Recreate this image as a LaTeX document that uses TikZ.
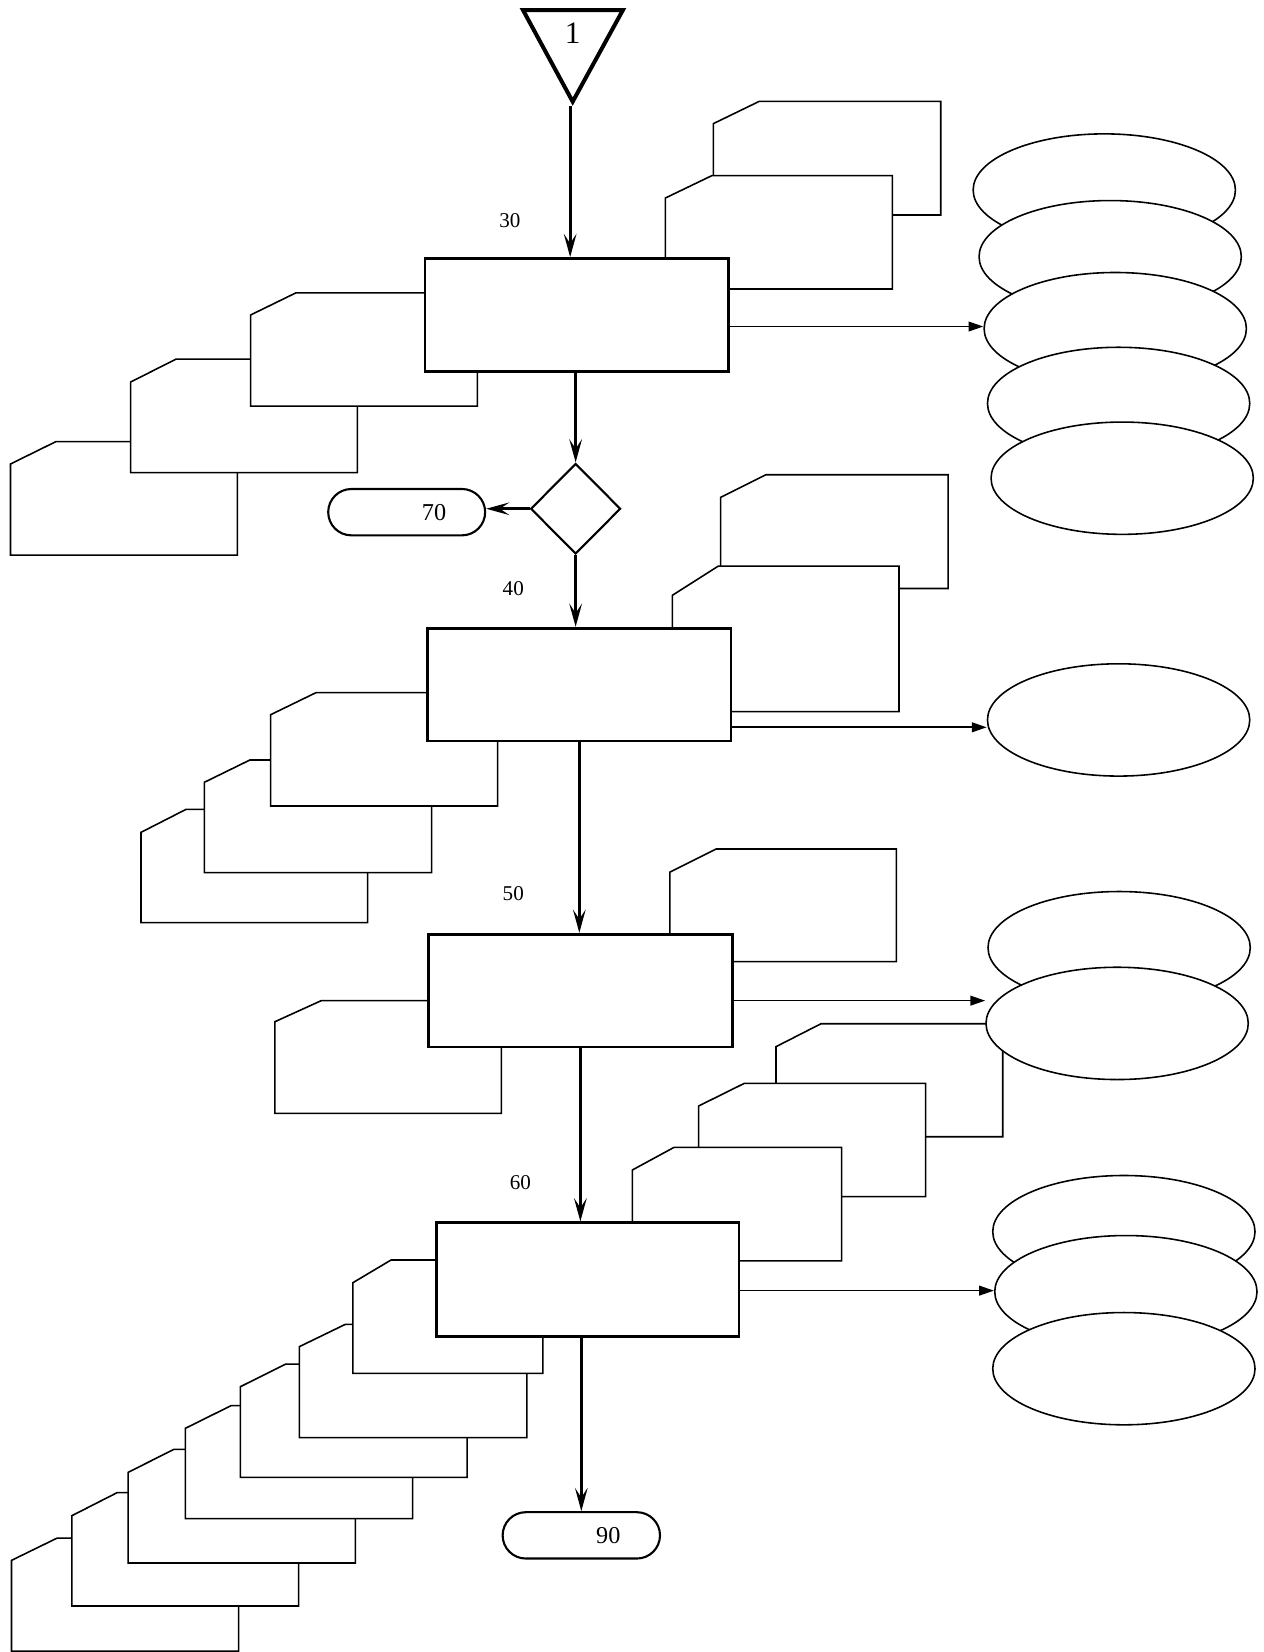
\documentclass[tikz,border=0pt]{standalone}
\usepackage{fontspec}
\setmainfont{Liberation Serif}
\usetikzlibrary{shapes.geometric,shapes.misc,arrows.meta}
\newcommand\doccard[6]{\path[cardline] (#1+#5,#2) -- (#1+#3,#2) -- (#1+#3,#2+#4) -- (#1,#2+#4) -- (#1,#2+#6) -- cycle;}
\begin{document}
\begin{tikzpicture}[x=0.5pt,y=-0.5pt,
 procbox/.style={draw,rectangle,line width=1.4pt,fill=white,inner sep=0pt,minimum width=144pt,minimum height=53.75pt},
 cardline/.style={draw,line width=0.75pt,fill=white,line join=miter},
 datastore/.style={draw,ellipse,line width=0.75pt,fill=white,inner sep=0pt,minimum width=124.5pt,minimum height=53.3pt},
 decision/.style={draw,diamond,line width=1pt,fill=white,inner sep=0pt,minimum width=42.7pt,minimum height=43pt},
 terminal/.style={draw,rounded rectangle,line width=1pt,fill=white,inner sep=0pt,minimum width=74.5pt,minimum height=22pt,font=\fontsize{11.5}{13}\selectfont},
 varrow/.style={line width=1.3pt,-{Stealth[length=11pt,width=6pt,inset=4.5pt]}},
 harrow/.style={line width=0.8pt,-{Triangle[length=7pt,width=4.6pt]}},
 steplabel/.style={font=\fontsize{10}{12}\selectfont,inner sep=0pt}
]
\useasboundingbox (0,0) rectangle (1200,1568.4);

% ---- step 30 ----
\doccard{10}{419.3}{215.3}{107.7}{43}{21.2}
\doccard{124}{341}{215.3}{107.7}{43}{21.7}
\doccard{238}{278}{215.2}{107.5}{43}{21}
\doccard{677.2}{96.2}{215.9}{107.9}{43.7}{21.2}
\doccard{631.7}{166.8}{215.5}{107.6}{44}{21.2}
\node[procbox] (b30) at (547.5,299.25) {};
\node[steplabel] (l30) at (484,209) {30};

\node[datastore] (e1) at (1048.4,180.4) {};
\node[datastore] (e2) at (1054,243.7) {};
\node[datastore] (e3) at (1058.8,312) {};
\node[datastore] (e4) at (1062,383) {};
\node[datastore] (e5) at (1065.4,454) {};

% ---- start triangle ----
\draw[line width=1.9pt,line join=miter] (496.5,9.5) -- (591.4,9.5) -- (543.7,96.5) -- cycle;
\node[font=\fontsize{14.8}{16}\selectfont,inner sep=0pt] (t1) at (543.7,31.6) {1};
\coordinate (tri) at (541.3,101);

% ---- decision ----
\node[decision] (dia) at (546.5,483) {};
\node[terminal] (t70) at (386.1,486.25) {\hspace*{26pt}70};

% ---- step 40 ----
\doccard{684.2}{450.7}{216}{108}{43}{21.5}
\doccard{638.3}{537.4}{215.2}{138.2}{43.7}{27.8}
\doccard{133.9}{768.4}{215.1}{107.6}{42.7}{21.8}
\doccard{194}{721.5}{215.8}{107}{43.3}{21.2}
\doccard{257}{657.6}{215.5}{107.6}{43}{20.9}
\node[procbox,minimum height=53.5pt] (b40) at (550,650) {};
\node[steplabel] (l40) at (487.3,558.6) {40};
\node[datastore] (e40) at (1062,683.5) {};

% ---- step 50 ----
\doccard{636}{806}{215}{107}{44}{22}
\doccard{261}{950}{215}{107}{44}{20}
\node[procbox,minimum height=53.5pt] (b50) at (551,940.5) {};
\node[steplabel] (l50) at (487.3,848.1) {50};
\doccard{736.7}{971.9}{215.3}{107.3}{42.8}{21.8}
\node[datastore] (e50a) at (1062.5,899.7) {};
\node[datastore] (e50b) at (1060.6,971.6) {};

% ---- step 60 ----
\doccard{663.3}{1028.5}{215.5}{107.6}{43.4}{21.5}
\doccard{600.3}{1089.3}{198.8}{107.7}{39.6}{21.5}
\doccard{10.9}{1460.2}{215.6}{107.3}{43.4}{21.2}
\doccard{68.2}{1417.1}{215.3}{107.6}{43}{21.9}
\doccard{121.7}{1376}{215.7}{107.9}{43.4}{21.8}
\doccard{176}{1334.5}{215.7}{107.3}{43.4}{21.5}
\doccard{228.2}{1295}{215.3}{107.6}{43.1}{21.5}
\doccard{284.2}{1257.3}{216}{107.6}{43.7}{21.2}
\doccard{335}{1196.2}{180.4}{107.7}{36.3}{21.6}
\node[procbox,minimum width=143.6pt,minimum height=54pt] (b60) at (558,1215) {};
\node[steplabel] (l60) at (494,1123) {60};
\node[datastore] (e60a) at (1067,1169.3) {};
\node[datastore] (e60b) at (1068.9,1226.3) {};
\node[datastore] (e60c) at (1067,1299.4) {};

\node[terminal,minimum width=74.7pt] (t90) at (551.9,1457.65) {\hspace*{25.6pt}90};

% ---- connectors ----
\draw[varrow] (tri) -- (tri |- b30.north);
\draw[varrow] (b30.south -| dia.north) -- (dia.north);
\draw[varrow] (dia.west) -- (t70.east |- dia.west);
\draw[varrow] (dia.south) -- (dia.south |- b40.north);
\draw[varrow] (b40.south) -- (b40.south |- b50.north);
\draw[varrow] (b50.south) -- (b50.south |- b60.north);
\draw[varrow] (b60.south -| t90.north) -- (t90.north);

\draw[harrow] (b30.east |- 0,310) -- (e3.west |- 0,310);
\draw[harrow] (b40.east |- 0,690.5) -- (e40.west |- 0,690.5);
\draw[harrow] (b50.east |- 0,950) -- (e50b.west |- 0,950);
\draw[harrow] (b60.east |- 0,1225.3) -- (e60b.west |- 0,1225.3);
\end{tikzpicture}
\end{document}
